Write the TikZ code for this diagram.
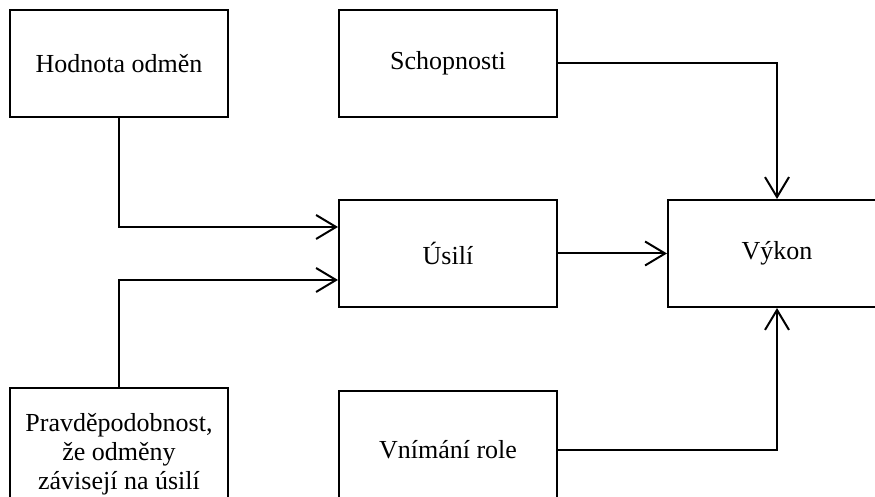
\documentclass[tikz,border=0pt]{standalone}
\usepackage{fontspec}
\setmainfont{Liberation Serif}
\usetikzlibrary{arrows.meta}

\begin{document}
\begin{tikzpicture}[x=1pt,y=1pt]
\tikzset{factor/.style ={draw, line width=2pt, minimum width=218pt, minimum height=107pt,
  inner sep=0pt, align=center, font=\fontsize{26}{29}\selectfont}}
\tikzset{link/.style ={line width=2pt, -{Straight Barb[length=20pt, width=24pt]}}}
\useasboundingbox (0,0) rectangle (875,497);
\clip (0,0) rectangle (875,497);
\node[factor] (hodnota) at (119,433.5) {Hodnota odměn};
\node[factor] (schopnosti) at (448,433.5) {Schopnosti};
\node[factor] (usili) at (448,243.5) {Úsilí};
\node[factor] (vykon) at (777,243.5) {Výkon};
\node[factor, minimum height=132pt] (pravdepodobnost) at (119,43) {Pravděpodobnost,\\že odměny\\závisejí na úsilí};
\node[factor, minimum height=118pt] (role) at (448,47) {Vnímání role};
\draw[link] (hodnota.south) |- ([yshift=26.5pt]usili.west);
\draw[link] (pravdepodobnost.north) |- ([yshift=-26.5pt]usili.west);
\draw[link] (usili) -- (vykon);
\draw[link] (schopnosti.east) -| (vykon.north);
\draw[link] (role.east) -| (vykon.south);
\end{tikzpicture}
\end{document}
